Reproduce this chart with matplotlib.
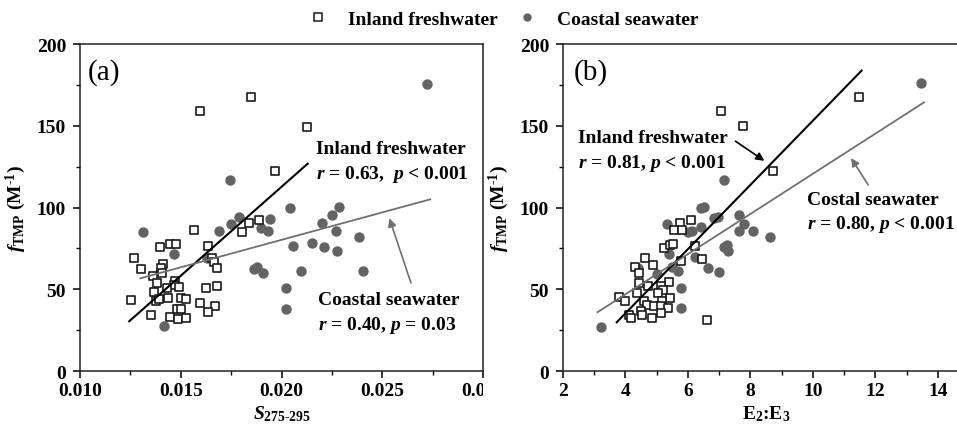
import numpy as np
import matplotlib
matplotlib.use('Agg')
import matplotlib.pyplot as plt
from matplotlib.lines import Line2D
from matplotlib.transforms import Bbox, TransformedBbox

plt.rcParams['font.family'] = 'Liberation Serif'
plt.rcParams['font.weight'] = 'bold'
plt.rcParams['axes.labelweight'] = 'bold'
plt.rcParams['mathtext.fontset'] = 'custom'
plt.rcParams['mathtext.rm'] = 'Liberation Serif:bold'
plt.rcParams['mathtext.it'] = 'Liberation Serif:italic:bold'
plt.rcParams['mathtext.bf'] = 'Liberation Serif:bold'

# (a) spectral slope S275-295 vs fTMP
a_in_x = [0.01566, 0.01395, 0.01449, 0.01474, 0.01267, 0.01303, 0.01414, 0.01401, 0.01406,
          0.01360, 0.01380, 0.01469, 0.01467, 0.01434, 0.01489, 0.01368, 0.01635, 0.01657,
          0.01663, 0.01680, 0.01624, 0.01680, 0.01251, 0.01376, 0.01393, 0.01439, 0.01500,
          0.01526, 0.01594, 0.01668, 0.01637, 0.01351, 0.01480, 0.01503, 0.01446, 0.01484,
          0.01526, 0.01594, 0.01850, 0.02127, 0.01967, 0.01838, 0.01803, 0.01890]
a_in_y = [86.1, 75.7, 77.7, 77.7, 68.9, 62.6, 65.3, 62.8, 59.8,
          58.3, 53.8, 54.9, 52.6, 50.9, 51.4, 48.1, 76.3, 68.9,
          66.5, 63.0, 50.8, 52.0, 43.6, 42.6, 43.9, 44.8, 44.8,
          43.9, 41.4, 39.9, 35.9, 34.3, 38.1, 38.1, 32.8, 32.0,
          32.2, 158.8, 167.6, 149.4, 122.1, 90.3, 85.2, 92.4]
a_co_x = [0.02724, 0.01743, 0.01313, 0.01465, 0.01416, 0.01751, 0.01787, 0.01690, 0.01898,
          0.01932, 0.01941, 0.01863, 0.01880, 0.01907, 0.02043, 0.02056, 0.02020, 0.02020,
          0.02098, 0.02150, 0.02201, 0.02213, 0.02251, 0.02271, 0.02287, 0.02276, 0.02383,
          0.02403, 0.01632]
a_co_y = [175.7, 116.8, 84.8, 71.6, 27.3, 89.9, 94.0, 85.4, 87.5,
          85.8, 93.0, 62.4, 63.4, 59.9, 99.5, 76.3, 50.6, 38.1,
          61.0, 78.1, 90.3, 75.7, 95.6, 85.8, 100.1, 73.2, 82.0,
          61.2, 68.9]
a_fit_in_x = [0.01244, 0.02130]
a_fit_in_y = [30.4, 126.8]
a_fit_co_x = [0.01300, 0.02738]
a_fit_co_y = [56.7, 105.0]

# (b) E2:E3 vs fTMP
b_in_x = [7.05, 7.75, 11.48, 8.74, 6.60, 5.75, 6.11, 5.57, 5.80, 5.25, 5.42, 5.53, 6.23,
          6.44, 4.63, 4.88, 4.30, 4.44, 5.78, 5.40, 4.42, 4.71, 5.14, 5.21, 4.38, 5.04,
          3.79, 3.97, 5.43, 4.60, 5.17, 4.68, 4.92, 5.15, 5.36, 5.13, 4.49, 4.10, 4.19,
          4.52, 4.86]
b_in_y = [159.2, 149.7, 167.8, 122.1, 31.4, 90.5, 92.5, 86.2, 86.1, 75.4, 77.2, 77.5, 76.5,
          68.7, 69.1, 64.8, 63.4, 59.8, 67.1, 54.4, 53.8, 51.8, 51.8, 49.7, 47.9, 47.9,
          45.3, 42.6, 44.8, 43.0, 43.0, 40.6, 39.6, 39.8, 38.5, 35.7, 36.5, 34.4, 32.6,
          34.4, 32.2]
b_co_x = [13.46, 7.15, 5.34, 6.42, 6.52, 6.41, 6.84, 6.96, 6.01, 6.14, 7.64, 7.80, 7.64,
          8.09, 8.62, 7.14, 7.26, 7.29, 5.38, 6.22, 6.65, 7.01, 4.41, 5.00, 5.69, 5.79,
          5.78, 3.22, 5.49]
b_co_y = [176.0, 116.8, 89.9, 99.5, 100.2, 87.9, 93.4, 94.0, 85.2, 85.8, 95.6, 90.1, 85.4,
          85.4, 82.0, 75.7, 77.1, 73.2, 71.4, 69.5, 62.8, 60.7, 63.2, 59.1, 61.3, 50.6,
          38.3, 27.1, 63.4]
b_fit_in_x = [3.72, 11.56]
b_fit_in_y = [29.8, 183.7]
b_fit_co_x = [3.10, 13.56]
b_fit_co_y = [35.9, 164.3]

sq_kw = dict(marker='s', s=34, facecolor='white', edgecolor='#1a1a1a', linewidths=1.2, zorder=3)
ci_kw = dict(marker='o', s=56, color='#636363', linewidths=0, zorder=2)

fig = plt.figure(figsize=(9.57, 4.27), dpi=100)
ax1 = fig.add_axes([0.0836, 0.1288, 0.4211, 0.7658])
ax2 = fig.add_axes([0.5883, 0.1288, 0.4242, 0.7658])

for ax in (ax1, ax2):
    for sp in ax.spines.values():
        sp.set_linewidth(1.1)
        sp.set_color('#222222')
    ax.tick_params(which='major', direction='out', length=5, width=1.1, labelsize=14, pad=3)
    ax.tick_params(axis='y', which='major', pad=5)
    ax.tick_params(which='minor', direction='out', length=3, width=1.0)
    ax.set_ylim(0, 200)
    ax.set_yticks([0, 50, 100, 150, 200])
    ax.set_yticks([25, 75, 125, 175], minor=True)
    ax.set_ylabel(r'$f_{\mathrm{TMP}}$ (M$^{\text{-}1}$)', fontsize=14, labelpad=6)

# panel (a)
ax1.scatter(a_co_x, a_co_y, **ci_kw)
ax1.scatter(a_in_x, a_in_y, **sq_kw)
ax1.plot(a_fit_in_x, a_fit_in_y, color='black', lw=1.5, zorder=4)
ax1.plot(a_fit_co_x, a_fit_co_y, color='#707070', lw=1.3, zorder=4)
ax1.set_xlim(0.010, 0.030)
ax1.set_xticks([0.010, 0.015, 0.020, 0.025, 0.030])
ax1.set_xticklabels(['0.010', '0.015', '0.020', '0.025', '0.030'])
ax1.set_xticks([0.0125, 0.0175, 0.0225, 0.0275], minor=True)
ax1.set_xlabel(r'$S_{275\text{-}295}$', fontsize=14, labelpad=3)
ax1.text(0.0104, 183, '(a)', fontsize=21, fontweight='normal', va='center')
ax1.text(0.02173, 135.8, 'Inland freshwater', fontsize=14, va='center')
ax1.text(0.02173, 120.5, r'$r$ = 0.63,  $p$ < 0.001', fontsize=14, va='center')
ax1.text(0.02183, 44.0, 'Coastal seawater', fontsize=14, va='center')
ax1.text(0.02183, 28.7, r'$r$ = 0.40, $p$ = 0.03', fontsize=14, va='center')
ax1.annotate('', xy=(0.02531, 95.0), xytext=(0.02647, 52.2),
             arrowprops=dict(arrowstyle='-|>', color='#707070', lw=1.2, mutation_scale=12))

# panel (b)
ax2.scatter(b_co_x, b_co_y, **ci_kw)
ax2.scatter(b_in_x, b_in_y, **sq_kw)
ax2.plot(b_fit_in_x, b_fit_in_y, color='black', lw=1.5, zorder=4)
ax2.plot(b_fit_co_x, b_fit_co_y, color='#707070', lw=1.3, zorder=4)
ax2.set_xlim(2, 15)
ax2.set_xticks([2, 4, 6, 8, 10, 12, 14])
ax2.set_xticks([3, 5, 7, 9, 11, 13], minor=True)
ax2.set_xlabel(r'E$_{2}$:E$_{3}$', fontsize=14, labelpad=3)
ax2.text(2.35, 183, '(b)', fontsize=21, fontweight='normal', va='center')
ax2.text(2.47, 142.9, 'Inland freshwater', fontsize=14, va='center')
ax2.text(2.47, 127.6, r'$r$ = 0.81, $p$ < 0.001', fontsize=14, va='center')
ax2.text(9.80, 105.2, 'Costal seawater', fontsize=14, va='center')
ax2.text(9.80, 90.5, r'$r$ = 0.80, $p$ < 0.001', fontsize=14, va='center')
ax2.annotate('', xy=(8.52, 127.6), xytext=(7.45, 141.5),
             arrowprops=dict(arrowstyle='-|>', color='black', lw=1.2, mutation_scale=12))
ax2.annotate('', xy=(11.18, 131.7), xytext=(11.82, 112.4),
             arrowprops=dict(arrowstyle='-|>', color='#707070', lw=1.2, mutation_scale=12))

# last tick label of (a) is cut at the panel edge
fig.canvas.draw()
edge = TransformedBbox(Bbox([[0, 0], [0.5047, 1]]), fig.transFigure)
last = ax1.get_xticklabels()[-1]
last.set_clip_box(edge)
last.set_clip_on(True)

handles = [Line2D([], [], ls='none', marker='s', ms=6, mfc='white', mec='#1a1a1a', mew=1.1),
           Line2D([], [], ls='none', marker='o', ms=6, mfc='#636363', mec='none')]
fig.legend(handles, ['Inland freshwater', 'Coastal seawater'], ncol=2, frameon=False,
           loc='center', bbox_to_anchor=(0.526, 0.953), fontsize=14,
           handlelength=1.0, handletextpad=1.0, columnspacing=1.05)

fig.savefig('out.png', dpi=100)
